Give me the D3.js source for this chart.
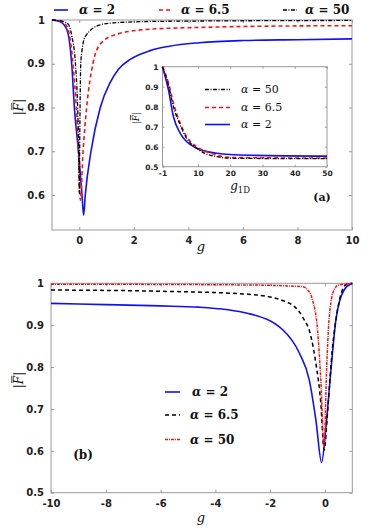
<!DOCTYPE html>
<html>
<head>
<meta charset="utf-8">
<script src="https://cdn.jsdelivr.net/npm/d3@7"></script>
<style>
  body { margin: 0; background: #fff; }
  .tick text { font-family: "DejaVu Sans", sans-serif; font-weight: bold; fill: #222; }
</style>
</head>
<body>
<svg id="chart" width="390" height="528"></svg>
<script>
// ---- panel (a): |F| against g ----
var gA2 = [-1, -0.7, -0.45, -0.27, -0.18, -0.03, 0.1, 0.16, 0.22, 0.43, 0.77, 1.14, 1.43, 1.87, 2.6, 3.3, 4.4, 6, 8, 10];
var fA2 = [1, 0.996, 0.977, 0.893, 0.8, 0.7, 0.6, 0.554, 0.6, 0.7, 0.8, 0.858, 0.887, 0.91, 0.93, 0.94, 0.948, 0.953, 0.955, 0.957];
var gA65 = [-1, -0.7, -0.45, -0.23, -0.11, -0.03, 0.04, 0.14, 0.27, 0.5, 0.77, 1.4, 2.6, 4.4, 7, 10];
var fA65 = [1, 0.998, 0.985, 0.9, 0.8, 0.7, 0.588, 0.7, 0.8, 0.9, 0.945, 0.968, 0.979, 0.983, 0.986, 0.987];
var gA50 = [-1, -0.6, -0.4, -0.27, -0.15, -0.06, -0.02, 0, 0.02, 0.06, 0.22, 0.77, 1.4, 3, 10];
var fA50 = [1, 0.997, 0.99, 0.962, 0.908, 0.8, 0.7, 0.604, 0.75, 0.908, 0.962, 0.989, 0.994, 0.997, 0.999];

// ---- inset: |F| against g_1D ----
var gIn2 = [-1, 0.86, 2.4, 4.5, 6.5, 9.6, 15.8, 21, 26, 50];
var fIn2 = [1, 0.883, 0.75, 0.667, 0.625, 0.592, 0.567, 0.56, 0.557, 0.553];
var gIn65 = [-1, 0.86, 2.4, 4.5, 6.5, 9.6, 12.7, 15.8, 19, 26, 50];
var fIn65 = [1, 0.917, 0.817, 0.717, 0.65, 0.6, 0.575, 0.558, 0.547, 0.545, 0.543];
var gIn50 = [-1, 0.86, 2.4, 4.5, 6.5, 9.6, 12.7, 15.8, 21, 50];
var fIn50 = [1, 0.908, 0.8, 0.708, 0.642, 0.592, 0.563, 0.55, 0.542, 0.54];

// ---- panel (b): |F| against g (negative side) ----
var gB2 = [-10, -8, -6, -4.6, -2.8, -1.54, -0.93, -0.57, -0.33, -0.12, 0.04, 0.22, 0.4, 0.7, 1];
var fB2 = [0.952, 0.949, 0.946, 0.943, 0.928, 0.889, 0.833, 0.769, 0.674, 0.572, 0.658, 0.793, 0.912, 0.984, 1];
var gB65 = [-10, -6, -2.8, -1.42, -0.82, -0.51, -0.33, -0.15, -0.03, 0.12, 0.27, 0.46, 0.76, 1];
var fB65 = [0.984, 0.981, 0.974, 0.956, 0.92, 0.873, 0.809, 0.714, 0.602, 0.714, 0.841, 0.936, 0.996, 1];
var gB50 = [-10, -2.8, -0.82, -0.6, -0.45, -0.27, -0.15, -0.03, 0.06, 0.15, 0.33, 0.51, 1];
var fB50 = [0.998, 0.996, 0.992, 0.982, 0.96, 0.889, 0.77, 0.61, 0.79, 0.912, 0.984, 0.996, 1];

var alphas = ['2', '6.5', '50'];

var ticksAx = [0, 2, 4, 6, 8, 10];
var ticksAy = [0.6, 0.7, 0.8, 0.9, 1];
var ticksInX = [-1, 10, 20, 30, 40, 50];
var ticksInY = [0.5, 0.6, 0.7, 0.8, 0.9, 1];
var ticksBx = [-10, -8, -6, -4, -2, 0];
var ticksBy = [0.5, 0.6, 0.7, 0.8, 0.9, 1];

var svg = d3.select('#chart');
var AXIS = '#9a9a9a';

var STYLE = {
    blue: { stroke: '#1010ff', width: 1.6, dash: null },
    redDash: { stroke: '#ff1010', width: 1.6, dash: '4,3' },
    blackDashDot: { stroke: '#000', width: 1.3, dash: '4,1.5,1,1.5' },
    blackDash: { stroke: '#000', width: 1.5, dash: '4,3' },
    redDashDot: { stroke: '#ff1010', width: 1.5, dash: '3,1,1,1' }
};

function zip(xs, ys) {
    return xs.map(function (x, i) { return { x: x, y: ys[i] }; });
}

// plain labels: "1", "0.9", "-10" (hyphen, not the unicode minus)
function plain(d) {
    return String(d);
}

function drawFrame(x, y, o) {
    var x0 = x.range()[0], x1 = x.range()[1], y0 = y.range()[0], y1 = y.range()[1];
    var g = svg.append('g').attr('class', 'frame');
    g.append('rect')
        .attr('x', x0).attr('y', y1)
        .attr('width', x1 - x0).attr('height', y0 - y1)
        .attr('fill', '#fff').attr('stroke', AXIS).attr('stroke-width', 1);

    var ts = o.tickLen;
    var bottom = g.append('g').attr('transform', 'translate(0,' + y0 + ')')
        .call(d3.axisBottom(x).tickValues(o.xTicks).tickFormat(plain)
            .tickSize(-ts).tickSizeOuter(0).tickPadding(o.pad + ts));
    var left = g.append('g').attr('transform', 'translate(' + x0 + ',0)')
        .call(d3.axisLeft(y).tickValues(o.yTicks).tickFormat(plain)
            .tickSize(-ts).tickSizeOuter(0).tickPadding(o.pad + ts));
    var top = g.append('g').attr('transform', 'translate(0,' + y1 + ')')
        .call(d3.axisTop(x).tickValues(o.xTicks).tickSize(-ts).tickSizeOuter(0).tickFormat(''));
    var right = g.append('g').attr('transform', 'translate(' + x1 + ',0)')
        .call(d3.axisRight(y).tickValues(o.yTicks).tickSize(-ts).tickSizeOuter(0).tickFormat(''));

    [bottom, left, top, right].forEach(function (a) {
        a.select('.domain').remove();
        a.selectAll('.tick line').attr('stroke', AXIS);
        a.selectAll('.tick text').attr('font-size', o.fontSize);
    });
    return g;
}

function drawCurve(x, y, pts, st) {
    var line = d3.line()
        .x(function (d) { return x(d.x); })
        .y(function (d) { return y(d.y); })
        .curve(d3.curveMonotoneX);
    var p = svg.append('path')
        .datum(pts)
        .attr('d', line)
        .attr('fill', 'none')
        .attr('stroke', st.stroke)
        .attr('stroke-width', st.width)
        .attr('stroke-linejoin', 'round');
    if (st.dash) p.attr('stroke-dasharray', st.dash);
    return p;
}

function alphaText(x, y, val, size, bold) {
    var t = svg.append('text')
        .attr('x', x).attr('y', y)
        .attr('dy', '0.35em')
        .attr('font-family', '"DejaVu Serif", serif')
        .attr('font-size', size)
        .attr('font-weight', bold ? 'bold' : 'normal')
        .attr('fill', '#111');
    t.append('tspan').attr('font-style', 'italic').text('\u03b1');
    t.append('tspan').text(' = ' + val);
    return t;
}

function legendEntry(x, y, len, st, val, size, bold, gap) {
    var l = svg.append('line')
        .attr('x1', x).attr('x2', x + len)
        .attr('y1', y).attr('y2', y)
        .attr('stroke', st.stroke)
        .attr('stroke-width', st.width);
    if (st.dash) l.attr('stroke-dasharray', st.dash);
    alphaText(x + len + gap, y, val, size, bold);
}

function fLabel(cx, cy, size) {
    var g = svg.append('g').attr('transform', 'translate(' + cx + ',' + cy + ') rotate(-90)');
    g.append('text')
        .attr('text-anchor', 'middle')
        .attr('dy', '0.35em')
        .attr('font-family', '"DejaVu Serif", serif')
        .attr('font-size', size)
        .attr('fill', '#111')
        .text('|')
        .append('tspan').attr('font-style', 'italic').text('F')
        .append('tspan').attr('font-style', 'normal').text('|');
    g.append('line')
        .attr('x1', -size * 0.25).attr('x2', size * 0.35)
        .attr('y1', -size * 0.6).attr('y2', -size * 0.6)
        .attr('stroke', '#111').attr('stroke-width', 0.8);
}

function axisTitle(x, y, main, sub, size) {
    var t = svg.append('text')
        .attr('x', x).attr('y', y)
        .attr('text-anchor', 'middle')
        .attr('font-family', '"DejaVu Serif", serif')
        .attr('font-size', size)
        .attr('fill', '#111');
    t.append('tspan').attr('font-style', 'italic').text(main);
    if (sub) t.append('tspan').attr('font-size', size * 0.7).attr('dy', size * 0.25).text(sub);
}

// ---------- panel (a) ----------
var xA = d3.scaleLinear().domain([-1, 10]).range([52, 352]);
var yA = d3.scaleLinear().domain([0.52, 1]).range([230, 20]);
drawFrame(xA, yA, { xTicks: ticksAx, yTicks: ticksAy, tickLen: 3, pad: 4, fontSize: 10 });
drawCurve(xA, yA, zip(gA2, fA2), STYLE.blue);
drawCurve(xA, yA, zip(gA65, fA65), STYLE.redDash);
drawCurve(xA, yA, zip(gA50, fA50), STYLE.blackDashDot);
fLabel(19, 107, 12);
axisTitle(201, 251, 'g', null, 13);

legendEntry(54, 10, 14, STYLE.blue, alphas[0], 12, true, 11);
legendEntry(159, 10, 14, STYLE.redDash, alphas[1], 12, true, 8);
legendEntry(283, 10, 14, STYLE.blackDashDot, alphas[2], 12, true, 8);

// ---------- inset ----------
var xIn = d3.scaleLinear().domain([-1, 50]).range([162.5, 327]);
var yIn = d3.scaleLinear().domain([0.5, 1]).range([166.7, 66.7]);
drawFrame(xIn, yIn, { xTicks: ticksInX, yTicks: ticksInY, tickLen: 2, pad: 2, fontSize: 7.5 });
drawCurve(xIn, yIn, zip(gIn2, fIn2), STYLE.blue);
drawCurve(xIn, yIn, zip(gIn65, fIn65), STYLE.redDash);
drawCurve(xIn, yIn, zip(gIn50, fIn50), STYLE.blackDashDot);
fLabel(136, 118, 9);
axisTitle(240, 190, 'g', '1D', 12);
legendEntry(205, 89.5, 25, STYLE.blackDashDot, alphas[2], 11, false, 11);
legendEntry(205, 107.5, 25, STYLE.redDash, alphas[1], 11, false, 11);
legendEntry(205, 124.5, 25, STYLE.blue, alphas[0], 11, false, 11);
svg.append('text')
    .attr('x', 322).attr('y', 201)
    .attr('text-anchor', 'middle')
    .attr('font-family', '"DejaVu Serif", serif')
    .attr('font-size', 11).attr('font-weight', 'bold')
    .attr('fill', '#111')
    .text('(a)');

// ---------- panel (b) ----------
var xB = d3.scaleLinear().domain([-10, 1]).range([51, 352.3]);
var yB = d3.scaleLinear().domain([0.5, 1]).range([492.7, 283.3]);
drawFrame(xB, yB, { xTicks: ticksBx, yTicks: ticksBy, tickLen: 3, pad: 4, fontSize: 10 });
drawCurve(xB, yB, zip(gB2, fB2), STYLE.blue);
drawCurve(xB, yB, zip(gB65, fB65), STYLE.blackDash);
drawCurve(xB, yB, zip(gB50, fB50), STYLE.redDashDot);
fLabel(19, 380, 12);
axisTitle(201, 522, 'g', null, 13);
legendEntry(165, 392, 15, STYLE.blue, alphas[0], 12, true, 12);
legendEntry(165, 415, 15, STYLE.blackDash, alphas[1], 12, true, 10);
legendEntry(165, 439.5, 15, STYLE.redDashDot, alphas[2], 12, true, 10);
svg.append('text')
    .attr('x', 83).attr('y', 459)
    .attr('text-anchor', 'middle')
    .attr('font-family', '"DejaVu Serif", serif')
    .attr('font-size', 12).attr('font-weight', 'bold')
    .attr('fill', '#111')
    .text('(b)');
</script>
</body>
</html>
